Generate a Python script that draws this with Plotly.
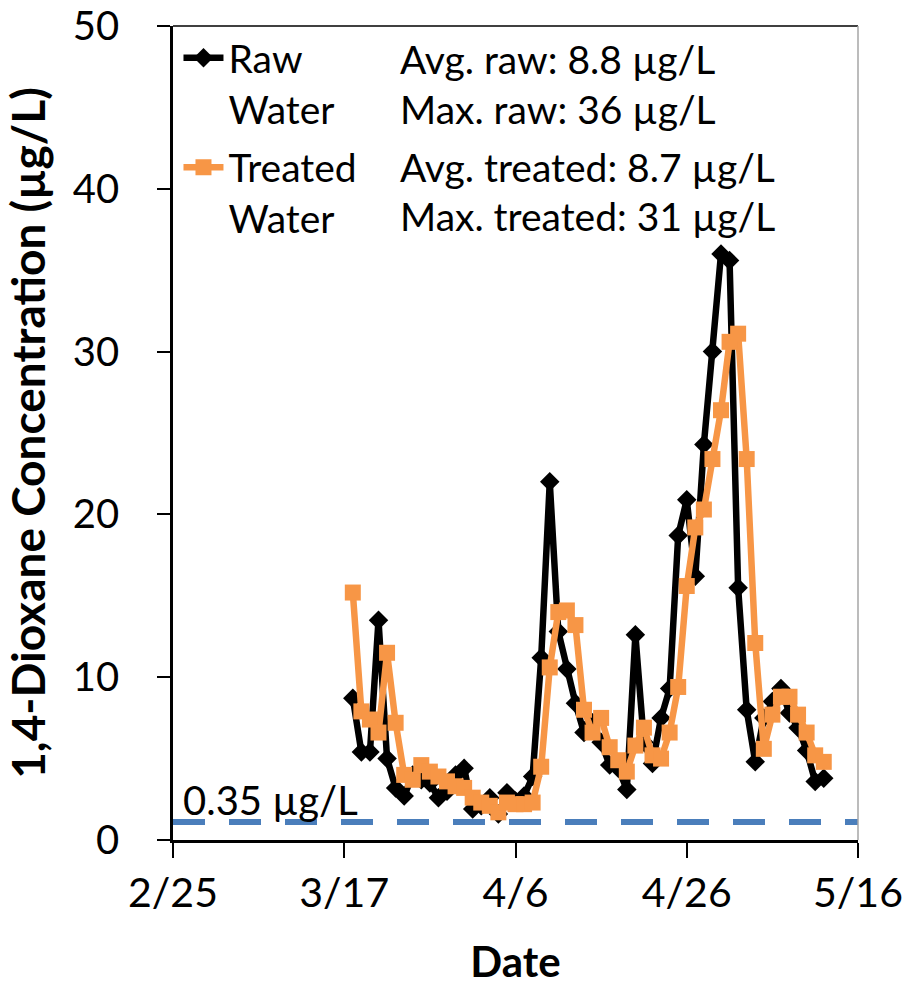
import plotly.graph_objects as go

dates = [
    "2021-03-18", "2021-03-19", "2021-03-20", "2021-03-21", "2021-03-22", "2021-03-23", "2021-03-24",
    "2021-03-25", "2021-03-26", "2021-03-27", "2021-03-28", "2021-03-29", "2021-03-30", "2021-03-31",
    "2021-04-01", "2021-04-02", "2021-04-03", "2021-04-04", "2021-04-05", "2021-04-06", "2021-04-07",
    "2021-04-08", "2021-04-09", "2021-04-10", "2021-04-11", "2021-04-12", "2021-04-13", "2021-04-14",
    "2021-04-15", "2021-04-16", "2021-04-17", "2021-04-18", "2021-04-19", "2021-04-20", "2021-04-21",
    "2021-04-22", "2021-04-23", "2021-04-24", "2021-04-25", "2021-04-26", "2021-04-27", "2021-04-28",
    "2021-04-29", "2021-04-30", "2021-05-01", "2021-05-02", "2021-05-03", "2021-05-04", "2021-05-05",
    "2021-05-06", "2021-05-07", "2021-05-08", "2021-05-09", "2021-05-10", "2021-05-11", "2021-05-12",
]

raw_water = [
    8.7, 5.4, 5.4, 13.5, 5.0, 3.2, 2.7, 4.0, 3.7, 3.5,
    2.6, 3.0, 4.0, 4.4, 1.9, 2.1, 2.6, 1.6, 2.9, 2.4,
    2.7, 3.9, 11.2, 22.0, 12.8, 10.5, 8.4, 6.6, 7.2, 6.0,
    4.6, 4.4, 3.1, 12.6, 6.0, 4.7, 7.5, 9.3, 18.7, 20.9,
    16.2, 24.3, 30.0, 36.0, 35.6, 15.5, 8.0, 4.8, 7.5, 8.5,
    9.3, 7.8, 6.9, 5.5, 3.6, 3.8,
]

treated_water = [
    15.2, 7.9, 7.4, 6.6, 11.5, 7.2, 4.0, 3.7, 4.6, 4.2,
    3.9, 3.6, 3.3, 3.2, 2.6, 2.3, 2.1, 1.7, 2.3, 2.2,
    2.2, 2.3, 4.5, 10.6, 14.0, 14.1, 13.2, 8.0, 6.6, 7.5,
    5.7, 4.9, 4.2, 5.8, 6.9, 5.2, 5.0, 6.6, 9.4, 15.6,
    19.2, 20.3, 23.4, 26.4, 30.6, 31.1, 23.4, 12.1, 5.6, 7.7,
    8.8, 8.8, 7.7, 6.6, 5.2, 4.8,
]

limit_dates = ["2021-02-25", "2021-05-16"]
limit_values = [1.1, 1.1]

tick_dates = ["2021-02-25", "2021-03-17", "2021-04-06", "2021-04-26", "2021-05-16"]
tick_labels = ["2/25", "3/17", "4/6", "4/26", "5/16"]
y_ticks = [0, 10, 20, 30, 40, 50]

stats_lines = [
    "Avg. raw: 8.8 µg/L",
    "Max. raw: 36 µg/L",
    "Avg. treated: 8.7 µg/L",
    "Max. treated: 31 µg/L",
]

FONT = "Lato"
fig = go.Figure()

fig.add_trace(go.Scatter(
    x=limit_dates, y=limit_values, mode="lines", showlegend=False,
    line=dict(color="#4A7EBB", width=6, dash="32px,24px"), hoverinfo="skip"))

fig.add_trace(go.Scatter(
    x=dates, y=raw_water, mode="lines+markers", name="Raw<br>Water",
    legendgroup="raw",
    line=dict(color="black", width=6.5),
    marker=dict(symbol="diamond", size=15, color="black")))

fig.add_trace(go.Scatter(
    x=dates, y=treated_water, mode="lines+markers", name="Treated<br>Water",
    legendgroup="treated",
    line=dict(color="#F79646", width=6.5),
    marker=dict(symbol="square", size=16, color="#F79646")))

fig.update_layout(
    width=907, height=986,
    margin=dict(l=173, r=49, t=26, b=146, autoexpand=False),
    paper_bgcolor="white", plot_bgcolor="white",
    font=dict(family=FONT, size=39, color="black"),
    showlegend=True,
    legend=dict(x=0.008, y=1.0, xanchor="left", yanchor="top",
                bgcolor="rgba(0,0,0,0)", valign="top",
                font=dict(family=FONT, size=39, color="black"),
                tracegroupgap=5, itemwidth=40),
    xaxis=dict(
        type="date", range=["2021-02-25", "2021-05-16"],
        tickvals=tick_dates, ticktext=tick_labels,
        ticks="outside", ticklen=15, tickwidth=2, tickcolor="black",
        showline=True, linecolor="black", linewidth=2.5,
        showgrid=False, zeroline=False, automargin=False,
        tickfont=dict(family=FONT, size=41, color="black"),
        ticklabelstandoff=0, ticklabeloverflow="allow",
        title=dict(text="<b>Date</b>", font=dict(family=FONT, size=42, color="black"), standoff=36),
    ),
    yaxis=dict(
        range=[0, 50], tickvals=y_ticks,
        ticks="outside", ticklen=13, tickwidth=2, tickcolor="black",
        showline=True, linecolor="black", linewidth=2.5,
        showgrid=False, zeroline=False, automargin=False,
        tickfont=dict(family=FONT, size=40, color="black"),
        ticklabelstandoff=30, ticklabeloverflow="allow",
        title=dict(text="<b>1,4-Dioxane Concentration (µg/L)</b>",
                   font=dict(family=FONT, size=46, color="black"), standoff=16),
    ),
)

# plot frame: top and right borders
fig.add_shape(type="line", xref="paper", yref="paper", x0=0, x1=1, y0=1, y1=1,
              line=dict(color="#404040", width=2))
fig.add_shape(type="line", xref="paper", yref="paper", x0=1, x1=1, y0=0, y1=1,
              line=dict(color="#A6A6A6", width=1.5))

stats_y = [0.9596, 0.898, 0.827, 0.766]
for txt, yy in zip(stats_lines, stats_y):
    fig.add_annotation(text=txt, xref="paper", yref="paper", x=0.3285, y=yy,
                       xanchor="left", yanchor="middle", showarrow=False,
                       font=dict(family=FONT, size=39, color="black"))

fig.add_annotation(text="0.35 µg/L", xref="paper", yref="paper", x=0.012, y=0.049,
                   xanchor="left", yanchor="middle", showarrow=False,
                   font=dict(family=FONT, size=40, color="black"))

fig.write_html("out.html")
